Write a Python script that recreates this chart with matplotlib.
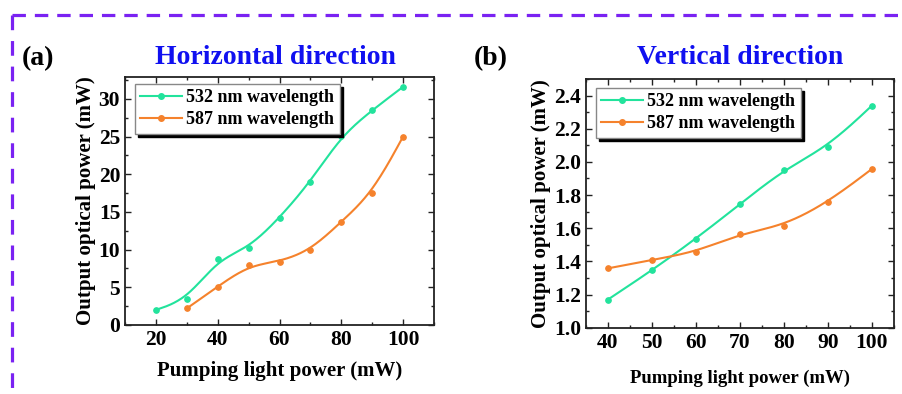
import numpy as np
import matplotlib
matplotlib.use("Agg")
import matplotlib.pyplot as plt
from matplotlib.lines import Line2D
from matplotlib.ticker import MultipleLocator, FormatStrFormatter

# ---------------- data ----------------
h_x532 = [20, 30, 40, 50, 60, 70, 80, 90, 100]
h_y532 = [2.0, 3.4, 8.7, 10.2, 14.2, 19.0, 25.1, 28.5, 31.6]
h_x587 = [30, 40, 50, 60, 70, 80, 90, 100]
h_y587 = [2.2, 5.1, 7.9, 8.4, 9.9, 13.7, 17.5, 25.0]

v_x = [40, 50, 60, 70, 80, 90, 100]
v_y532 = [1.17, 1.346, 1.537, 1.745, 1.954, 2.092, 2.34]
v_y587 = [1.358, 1.409, 1.457, 1.566, 1.616, 1.757, 1.958]

labels = ["532 nm wavelength", "587 nm wavelength"]
titles = ["Horizontal direction", "Vertical direction"]
panel_tags = ["(a)", "(b)"]
xlabel = "Pumping light power (mW)"
ylabel = "Output optical power (mW)"

GREEN = "#22E39C"
ORANGE = "#F5822C"
SERIF = ["Liberation Serif", "DejaVu Serif"]


def bspline(x, y, n=40):
    """Clamped uniform cubic B-spline using the data points as control points."""
    P = np.column_stack([x, y]).astype(float)
    P = np.vstack([P[0], P[0], P, P[-1], P[-1]])
    t = np.linspace(0, 1, n, endpoint=False)
    b0 = (1 - t) ** 3 / 6
    b1 = (3 * t ** 3 - 6 * t ** 2 + 4) / 6
    b2 = (-3 * t ** 3 + 3 * t ** 2 + 3 * t + 1) / 6
    b3 = t ** 3 / 6
    pts = []
    for i in range(len(P) - 3):
        seg = (np.outer(b0, P[i]) + np.outer(b1, P[i + 1])
               + np.outer(b2, P[i + 2]) + np.outer(b3, P[i + 3]))
        pts.append(seg)
    pts.append(P[-1][None, :])
    pts = np.vstack(pts)
    return pts[:, 0], pts[:, 1]


fig = plt.figure(figsize=(9.03, 3.94), dpi=100)
fig.patch.set_facecolor("white")

# dashed purple frame
purple = "#7A22F2"
fig.add_artist(Line2D([12 / 903, 1.0], [1 - 15 / 394, 1 - 15 / 394],
                      transform=fig.transFigure, color=purple, lw=2.3,
                      linestyle=(0, (4.2, 2.8)), solid_capstyle="butt"))
fig.add_artist(Line2D([12 / 903, 12 / 903], [1 - 15 / 394, 0.0],
                      transform=fig.transFigure, color=purple, lw=2.3,
                      linestyle=(0, (4.6, 3.4)), solid_capstyle="butt"))

axA = fig.add_axes([125 / 903, 1 - 325 / 394, (434 - 125) / 903, (325 - 77) / 394])
axB = fig.add_axes([586 / 903, 1 - 327.7 / 394, (894 - 586) / 903, (327.7 - 79) / 394])


def series(ax, x, y, color, label):
    xs, ys = bspline(x, y)
    ax.plot(xs, ys, color=color, lw=1.5, zorder=3)
    ax.plot(x, y, "o", color=color, ms=4, mfc=color, mec=color, mew=0.8, zorder=4)
    return Line2D([], [], color=color, lw=1.5, marker="o", ms=4, label=label)


def style(ax, fs_tick):
    for s in ax.spines.values():
        s.set_linewidth(1.3)
        s.set_color("#222222")
    ax.tick_params(which="both", direction="in", top=True, right=True,
                   labelsize=fs_tick, width=1.0, colors="#222222")
    ax.tick_params(which="major", length=4)
    ax.tick_params(which="minor", length=2.5)
    for t in ax.get_xticklabels() + ax.get_yticklabels():
        t.set_fontfamily(SERIF)
        t.set_fontweight("bold")
        t.set_color("black")


# ---- panel (a)
hA = [series(axA, h_x532, h_y532, GREEN, labels[0]),
      series(axA, h_x587, h_y587, ORANGE, labels[1])]
axA.set_xlim(10, 110)
axA.set_ylim(0, 32.9)
axA.xaxis.set_major_locator(MultipleLocator(20))
axA.xaxis.set_minor_locator(MultipleLocator(10))
axA.yaxis.set_major_locator(MultipleLocator(5))
axA.yaxis.set_minor_locator(MultipleLocator(2.5))
style(axA, 15.5)
axA.set_xlabel(xlabel, fontfamily=SERIF, fontweight="bold", fontsize=15, labelpad=8)
axA.set_ylabel(ylabel, fontfamily=SERIF, fontweight="bold", fontsize=15, labelpad=2)

# ---- panel (b)
hB = [series(axB, v_x, v_y532, GREEN, labels[0]),
      series(axB, v_x, v_y587, ORANGE, labels[1])]
axB.set_xlim(35, 105)
axB.set_ylim(1.0, 2.5)
axB.xaxis.set_major_locator(MultipleLocator(10))
axB.xaxis.set_minor_locator(MultipleLocator(5))
axB.yaxis.set_major_locator(MultipleLocator(0.2))
axB.yaxis.set_minor_locator(MultipleLocator(0.1))
axB.yaxis.set_major_formatter(FormatStrFormatter("%.1f"))
style(axB, 15.5)
axB.set_xlabel(xlabel, fontfamily=SERIF, fontweight="bold", fontsize=13.5, labelpad=12)
axB.set_ylabel(ylabel, fontfamily=SERIF, fontweight="bold", fontsize=15, labelpad=2)

for ax, hs, anchor in ((axA, hA, (0.032, 0.972)), (axB, hB, (0.032, 0.964))):
    leg = ax.legend(handles=hs, loc="upper left", bbox_to_anchor=anchor,
                    borderaxespad=0.0,
                    prop={"family": SERIF, "weight": "bold", "size": 13},
                    frameon=True, fancybox=False, handlelength=2.3,
                    handletextpad=0.25, borderpad=0.3, labelspacing=0.28,
                    shadow={"color": "black", "alpha": 1.0, "ox": 2.5, "oy": -2.5})
    leg.get_frame().set_edgecolor("#888888")
    leg.get_frame().set_linewidth(1.0)

# titles and tags
fig.text(275 / 903, 1 - 57 / 394, titles[0], color="#1010F0", fontfamily=SERIF,
         fontweight="bold", fontsize=20, ha="center", va="center")
fig.text(740 / 903, 1 - 57 / 394, titles[1], color="#1010F0", fontfamily=SERIF,
         fontweight="bold", fontsize=20, ha="center", va="center")
fig.text(22 / 903, 1 - 59 / 394, panel_tags[0], color="black", fontfamily=SERIF,
         fontweight="bold", fontsize=20, ha="left", va="center")
fig.text(474 / 903, 1 - 59 / 394, panel_tags[1], color="black", fontfamily=SERIF,
         fontweight="bold", fontsize=20, ha="left", va="center")

fig.savefig("out.png", dpi=100)
